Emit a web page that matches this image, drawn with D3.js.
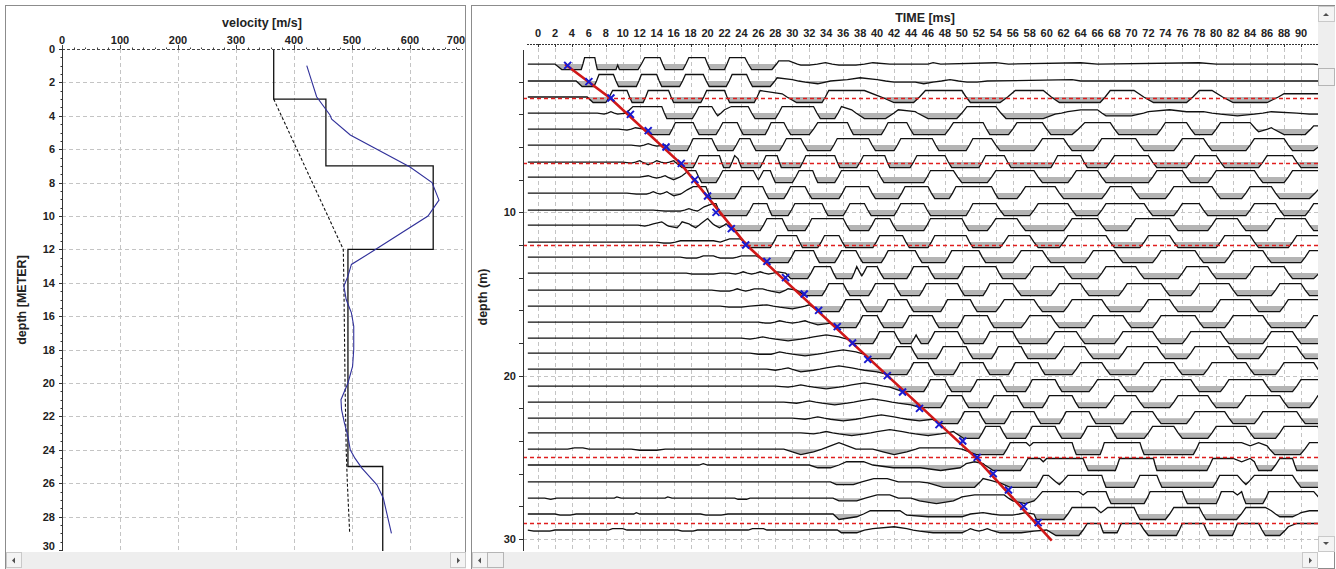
<!DOCTYPE html>
<html>
<head>
<meta charset="utf-8">
<script src="https://cdn.jsdelivr.net/npm/d3@7"></script>
<style>
  body { margin: 0; background: #ffffff; }
  svg { display: block; font-family: "Liberation Sans", Arial, sans-serif; }
  .tick-label { font-size: 11px; font-weight: bold; fill: #222; }
  .title { font-size: 12.5px; font-weight: bold; fill: #222; }
</style>
</head>
<body>
<svg id="chart" width="1336" height="569"></svg>
<script>
// ---------- velocity profile (left panel) ----------
const velocityTicks = [0, 100, 200, 300, 400, 500, 600, 700];
const depthTicksLeft = [0, 2, 4, 6, 8, 10, 12, 14, 16, 18, 20, 22, 24, 26, 28, 30];

// layered model (step curve)
const layerTop      = [0, 3, 7, 12, 25];
const layerBottom   = [3, 7, 12, 25, 30.5];
const layerVelocity = [365, 455, 640, 493, 553];

// dashed curve
const dashedDepth    = [3, 12, 14, 20, 24, 26, 29];
const dashedVelocity = [365, 485, 486, 488, 490, 492, 496];

// blue curve
const blueDepth    = [1.0, 2.86, 3.95, 4.2, 5.15, 7.07, 8.0, 9.05, 10.0, 12.04, 12.9, 13.6, 14.2, 15.0, 15.8, 16.6, 18.0, 19.0, 20.0, 21.0, 21.6, 22.4, 23.2, 24.0, 24.5, 25.1, 26.1, 26.9, 29.0];
const blueVelocity = [422, 439, 462, 465, 497, 600, 638, 650, 631, 539, 499, 493, 486, 490, 499, 503, 503, 501, 493, 481, 482, 487, 493, 497, 505, 517, 543, 554, 568];

// ---------- seismic section (right panel) ----------
const timeTicks = [0,2,4,6,8,10,12,14,16,18,20,22,24,26,28,30,32,34,36,38,40,42,44,46,48,50,52,54,56,58,60,62,64,66,68,70,72,74,76,78,80,82,84,86,88,90];
const depthTicksRight = [2, 4, 6, 8, 10, 12, 14, 16, 18, 20, 22, 24, 26, 28, 30];
const depthLabelsRight = [10, 20, 30];
const boundaryDepths = [3, 7, 12, 25, 29];

// trace baseline depths
const traceDepths = [0.92, 1.96, 2.94, 3.92, 4.90, 5.88, 6.92, 7.84, 8.82, 9.86, 10.78, 11.82, 12.74, 13.72, 14.76, 15.74, 16.72, 17.70, 18.62, 19.60, 20.64, 21.62, 22.60, 23.50, 24.50, 25.47, 26.50, 27.50, 28.47, 29.45];

// first-break picks
const pickDepths = [1,2,3,4,5,6,7,8,9,10,11,12,13,14,15,16,17,18,19,20,21,22,23,24,25,26,27,28,29];
const pickTimes  = [3.5, 6.0, 8.6, 10.9, 13.0, 15.1, 16.9, 18.5, 20.0, 21.0, 22.8, 24.5, 27.0, 29.2, 31.4, 33.1, 35.3, 37.1, 38.9, 41.2, 43.0, 45.0, 47.3, 50.1, 51.8, 53.7, 55.5, 57.3, 59.0];

// travel-time curve
const curveDepths = [0.93, 3, 7, 12, 25, 30.1];
const curveTimes  = [3.2, 8.5, 16.8, 24.6, 51.6, 60.6];

// trace waveforms as breakpoints "<time ms><level>", joined by straight segments
// levels: L clipped trough, l half trough, d small trough, - zero, u small peak, h half peak, H clipped peak
const traces = [
  "-1.2- 2.0- 2.8L 5.1L 5.5H 6.7H 7.0L 9.2L 9.4d 9.6L 11.8L 12.6H 14.4H 15.0L 17.1L 17.8H 19.7H 20.3L 22.0L 22.6H 24.4H 25.2L 27.6L 28.4h 29.6h 31.0d 32.0d 33.9u 35.5d 37.5d 39.5u 41.5- 46.0- 46.6u 47.5- 54.0u 55.5- 64.0u 66.0- 78.0u 80.0- 91.5- 92.5d",
  "-1.2- 4.5- 5.2L 6.6L 7.2H 8.9H 9.5L 11.6L 12.2H 14.0H 14.6L 16.7L 17.4H 19.5H 20.2L 22.2L 22.9H 24.6H 25.3L 27.4L 28.2h 30.0u 31.5d 33.0l 34.5- 36.5u 38.0h 40.0u 42.0d 44.5d 45.5l 46.6d 48.6u 50.6d 51.8d 53.0- 63.0u 64.0- 92.5-",
  "-1.2- 5.8- 6.5L 8.0L 8.8H 10.5H 11.1L 12.4L 13.0H 15.4H 16.0L 19.2L 19.9H 22.0H 22.6L 25.5L 26.2H 28.8h 30.5L 33.5L 34.3H 37.5H 38.5H 40.5- 42.0L 44.3L 45.7H 50.0H 51.0L 54.5L 56.3H 59.6H 61.5L 66.3L 67.5H 70.3H 72.6L 76.5L 78.0H 79.5H 82.0L 86.0L 88.0h 92.5h",
  "-1.2- 7.0- 7.8d 8.6u 9.4d 10.4- 11.2H 14.6H 15.2L 18.2L 19.0H 20.5H 21.2l 22.0h 22.8H 24.8H 25.6L 28.0L 28.8H 32.5H 33.3L 35.0L 35.8H 37.0h 38.5L 41.0L 42.5h 44.5u 46.0L 49.4L 50.6H 54.0H 55.2L 59.6L 61.0d 62.5u 64.0h 66.0h 67.0l 70.0l 72.0u 74.5h 76.5u 78.5u 80.5d 82.5l 84.5d 86.5u 89.5- 91.0d 92.5d",
  "-1.2- 9.5- 10.5d 11.5u 12.5- 13.3L 15.5L 16.2H 18.3H 19.0L 21.0L 21.8H 23.5H 24.2L 26.8L 27.5H 29.0H 29.8L 32.0L 33.0H 36.5H 37.2L 40.5L 41.3H 43.5H 44.3L 48.0L 49.0H 52.5H 53.3L 55.5L 56.5H 59.5H 60.5L 63.0L 64.5H 67.5H 68.5L 73.0L 74.0H 76.5H 77.5L 79.5L 80.5H 84.0H 85.0l 86.5u 88.0L 90.5L 91.5h 92.5h",
  "-1.2- 11.0- 12.0d 13.0u 14.0d 15.0- 15.6L 17.6L 18.3H 20.5H 21.2L 23.0L 23.8H 25.0H 25.7L 28.5L 29.3H 31.0H 31.8L 34.5L 35.3H 39.0H 39.8L 42.0L 42.8H 46.5H 47.3L 50.5L 51.3H 53.5H 54.5L 58.5L 59.5H 62.0H 63.0L 65.5L 66.5H 70.5H 71.5L 75.0L 76.0H 78.5H 79.5L 83.5L 84.5H 88.0H 89.0L 91.5L 92.5u",
  "-1.2- 10.0- 11.0d 12.0u 13.0l 14.0u 15.0d 16.0u 17.0L 18.3L 19.0H 21.4H 21.9L 22.6L 23.2H 23.6h 24.0L 26.2L 26.9H 28.2H 28.7L 30.9L 31.6H 35.0H 35.6L 37.6L 38.4H 40.9H 41.5L 43.9L 44.7H 48.0H 48.8L 52.0L 52.8H 55.0H 55.8L 60.5L 61.3H 64.0H 64.8L 67.0L 68.0H 72.0H 73.0L 76.5L 77.5H 80.0H 81.0L 85.0L 86.0H 89.0H 90.0L 92.5L",
  "-1.2- 12.0- 13.0u 14.0d 15.0u 16.0l 17.0u 17.8H 18.6H 19.3L 21.0L 21.8H 25.4H 26.0l 26.6H 27.4H 28.0L 30.0L 30.8H 32.4H 33.0L 35.0L 35.8H 40.0H 40.8L 45.5L 46.3H 49.0H 50.0L 53.0L 54.0H 58.5H 59.5L 62.5L 63.5H 66.0H 67.0L 72.0L 73.0H 76.0H 77.0L 79.0L 80.0H 84.5H 85.5L 88.0L 89.0H 92.5H",
  "-1.2- 10.5- 11.6d 12.8d 13.6u 14.4d 15.2u 16.0l 16.8d 17.6h 18.3H 19.8H 20.4L 23.2L 24.0H 26.5H 27.2L 29.0L 29.8H 31.5H 32.3L 35.5L 36.3H 39.0H 39.8L 42.5L 43.3H 46.0H 46.8L 48.5L 49.3H 53.5H 54.3L 56.5L 57.5H 61.0H 62.0L 66.5L 67.5H 70.0H 71.0L 74.0L 75.0H 79.5H 80.5L 83.0L 84.0H 86.5H 87.5L 91.0L 92.0h",
  "-1.2- 13.6- 15.0d 16.8d 17.8u 18.8d 19.6h 20.6H 21.0H 21.6L 24.6L 25.4H 27.0H 27.6L 29.5L 30.3H 33.5H 34.2L 36.0L 36.8H 38.5H 39.3L 42.0L 42.8H 45.5H 46.3L 50.5L 51.3H 54.0H 55.0L 58.0L 59.0H 62.5H 63.5L 66.0L 67.0H 71.5H 72.5L 75.0L 76.0H 78.0H 79.0L 83.5L 84.5H 87.0H 88.0L 90.5L 91.5H 92.5H",
  "-1.2- 11.8- 12.6d 13.6u 14.6h 15.4d 16.4l 17.0h 17.8u 18.6l 19.2u 20.0H 20.6u 21.4l 22.2u 23.0L 26.2L 27.0H 28.8H 29.5L 31.5L 32.3H 36.0H 36.8L 39.0L 39.8H 41.5H 42.3L 45.5L 46.3H 50.0H 50.8L 53.0L 54.0H 56.5H 57.5L 62.0L 63.0H 66.0H 67.0L 69.5L 70.5H 74.5H 75.5L 79.0L 80.0H 82.5H 83.5L 86.0L 87.0H 90.5H 91.5L 92.5L",
  "-1.2- 14.0- 14.8d 15.6d 16.8u 18.5u 20.7u 21.5- 22.6h 23.8h 24.4- 25.0L 27.4L 28.2H 30.5H 31.2L 33.0L 33.8H 35.5H 36.3L 39.5L 40.3H 43.0H 43.8L 46.0L 46.8H 50.5H 51.3L 54.5L 55.5H 58.0H 59.0L 61.5L 62.5H 67.0H 68.0L 71.0L 72.0H 74.5H 75.5L 80.0L 81.0H 84.0H 85.0L 88.5L 89.5H 92.5H",
  "-1.2- 16.8- 17.5d 18.7d 19.5u 20.7u 21.5d 23.0d 24.0u 25.7u 26.3d 27.2L 29.5L 30.3H 32.5H 33.2L 35.0L 35.8H 37.5H 38.3L 40.5L 41.3H 44.5H 45.3L 48.0L 48.8H 52.0H 52.8L 56.0L 57.0H 59.5H 60.5L 64.5L 65.5H 68.0H 69.0L 72.5L 73.5H 77.5H 78.5L 81.0L 82.0H 85.5H 86.5L 90.0L 91.0H 92.5H",
  "-1.2- 17.5- 18.2d 20.7d 21.5- 22.5- 23.3d 24.2u 25.2d 26.2u 27.2d 28.3u 29.2- 29.8L 31.8L 32.6H 34.5H 35.2L 37.0L 37.6H 38.2l 38.8H 40.0H 40.8L 43.5L 44.3H 46.0H 46.8L 49.5L 50.3H 54.0H 54.8L 57.5L 58.5H 62.0H 63.0L 66.0L 67.0H 70.5H 71.5L 75.5L 76.5H 79.0H 80.0L 83.5L 84.5H 88.0H 89.0L 91.5L 92.5h",
  "-1.2- 20.5- 21.5d 22.6d 23.5u 24.5d 25.5u 26.5u 27.5d 28.5l 29.5u 30.5- 31.5L 33.5L 34.3H 36.0H 36.8L 39.0L 39.8H 42.0H 42.8L 45.0L 45.8H 49.5H 50.3L 52.5L 53.3H 56.0H 57.0L 60.5L 61.5H 64.0H 65.0L 68.5L 69.5H 73.5H 74.5L 77.0L 78.0H 81.5H 82.5L 86.5L 87.5H 90.0H 91.0L 92.5L",
  "-1.2- 21.5- 22.5d 24.0d 25.0- 27.0u 28.5d 30.0l 31.0d 32.0u 33.2L 35.5L 36.3H 38.0H 38.8L 40.5L 41.3H 43.5H 44.3L 47.5L 48.3H 51.0H 51.8L 54.0L 55.0H 58.5H 59.5L 62.0L 63.0H 66.5H 67.5L 71.0L 72.0H 74.5H 75.5L 79.5L 80.5H 84.0H 85.0L 87.5L 88.5H 92.5H",
  "-1.2- 26.0- 26.8d 27.4d 28.5u 30.0d 31.5u 33.0l 34.5d 35.4L 37.5L 38.3H 40.0H 40.8L 43.0L 43.8H 46.5H 47.3L 49.5L 50.3H 53.0H 53.8L 57.0L 58.0H 60.5H 61.5L 64.5L 65.5H 69.0H 70.0L 72.5L 73.5H 77.5H 78.5L 81.0L 82.0H 85.5H 86.5L 90.5L 91.5H 92.5H",
  "-1.2- 24.0- 25.0d 26.5u 28.0d 29.5l 31.0d 32.5u 34.0h 35.5u 36.5d 37.2L 39.5L 40.3H 42.0H 42.8L 44.0L 44.6h 45.2L 46.0L 46.8H 49.5H 50.3L 52.5L 53.3H 56.0H 56.8L 60.0L 61.0H 63.5H 64.5L 68.0L 69.0H 72.5H 73.5L 76.0L 77.0H 80.5H 81.5L 85.5L 86.5H 89.0H 90.0L 92.5L",
  "-1.2- 25.0- 26.0d 27.5d 28.5u 30.0d 31.5l 33.0d 34.5u 36.0h 37.5u 38.5d 39.0L 41.5L 42.3H 44.0H 44.8L 47.0L 47.8H 50.5H 51.3L 53.5L 54.3H 57.0H 57.8L 61.0L 62.0H 64.5H 65.5L 68.5L 69.5H 73.0H 74.0L 76.5L 77.5H 81.5H 82.5L 85.0L 86.0H 89.5H 90.5L 92.5L",
  "-1.2- 27.0- 28.0d 29.5u 31.0l 32.5d 34.0u 35.5h 37.0u 38.5d 40.0l 41.3L 43.5L 44.3H 46.0H 46.8L 49.0L 49.8H 52.5H 53.3L 55.5L 56.3H 59.0H 59.8L 63.0L 64.0H 66.5H 67.5L 70.5L 71.5H 75.0H 76.0L 78.5L 79.5H 83.5H 84.5L 87.0L 88.0H 91.5H 92.5L",
  "-1.2- 28.0- 29.5d 31.0u 32.5d 34.0l 35.5d 37.0u 38.5h 40.0u 41.5d 43.0L 45.5L 46.3H 48.0H 48.8L 51.0L 51.8H 54.5H 55.3L 57.5L 58.3H 61.0H 61.8L 65.0L 66.0H 68.5H 69.5L 72.5L 73.5H 77.0H 78.0L 80.5L 81.5H 85.5H 86.5L 89.0L 90.0H 92.5H",
  "-1.2- 29.0- 30.5d 32.0u 33.5d 35.0l 36.5d 38.0u 39.5h 41.0u 42.5d 44.0l 45.1L 47.5L 48.3H 50.0H 50.8L 53.0L 53.8H 56.5H 57.3L 59.5L 60.3H 63.0H 63.8L 67.0L 68.0H 70.5H 71.5L 74.5L 75.5H 79.0H 80.0L 82.5L 83.5H 87.5H 88.5L 91.0L 92.0H",
  "-1.2- 30.0- 31.5d 33.0u 34.5d 36.0l 37.5d 39.0u 40.5h 42.0u 43.5d 45.0l 46.5d 47.4L 49.5L 50.3H 52.0H 52.8L 55.0L 55.8H 58.5H 59.3L 61.5L 62.3H 65.0H 65.8L 69.0L 70.0H 72.5H 73.5L 76.5L 77.5H 81.0H 82.0L 84.5L 85.5H 89.5H 90.5L 92.5L",
  "-1.2- 31.0- 32.5d 34.0u 35.5d 37.0l 38.5d 40.0u 41.5h 43.0u 44.5d 46.0l 47.5d 49.0u 50.2L 52.0L 52.8H 54.5H 55.3L 57.5L 58.3H 61.0H 61.8L 64.0L 64.8H 67.5H 68.3L 71.5L 72.5H 75.0H 76.0L 79.0L 80.0H 83.5H 84.5L 87.0L 88.0H 92.0H 92.5L",
  "-1.2- 3.5- 4.3u 5.3u 6.0- 11.0- 12.0d 14.0d 15.0- 29.0- 30.0l 31.0L 32.5l 33.5- 34.5h 35.5H 36.5h 37.5- 39.5- 40.7l 42.0L 43.5l 45.0u 49.0u 50.0- 51.7L 54.9L 55.7H 57.6H 58.0h 58.4H 63.0H 63.5L 66.3L 66.8H 71.0H 71.5L 77.3L 78.0H 83.0H 84.0h 85.0H 86.0h 86.9L 89.9L 91.0H 92.5H",
  "-1.2- 19.0- 19.5u 20.0- 32.0- 33.0l 34.5l 35.5- 36.4h 38.4h 39.5- 41.9l 43.9l 45.1l 47.5L 49.8l 50.5u 51.5h 52.5u 53.7L 56.9L 57.8H 59.2H 59.6h 60.0H 64.3H 64.9L 68.1L 68.6H 72.6H 73.0L 78.9L 79.6H 82.0H 83.0h 84.0H 84.5h 85.0L 86.5L 87.5H 89.0H 89.5L 92.0L 92.5l",
  "-1.2- 34.5- 35.2l 37.2l 38.2- 39.6h 41.2h 42.5- 45.0- 46.0d 47.8L 51.5L 52.5h 53.5u 54.5d 55.7L 58.8L 59.6H 60.2H 61.5l 62.5H 66.5H 67.0L 70.3L 71.0H 73.0H 73.6L 79.6L 80.4H 82.5H 83.5l 84.5H 89.0H 90.0L 92.5L",
  "-1.2- 0.8- 1.5d 2.2- 9.0- 9.3u 9.8- 15.0- 15.3u 15.8- 23.2- 23.6d 24.6d 25.0- 34.8- 35.5l 37.6l 38.6- 40.0h 41.5h 42.5- 44.0- 45.0l 47.0L 49.0l 50.0u 51.5h 55.0h 56.0l 57.5L 58.5l 59.5H 63.8H 64.3h 64.8H 67.0H 67.6L 71.5L 72.2H 76.0H 76.6L 80.0L 80.6H 82.0H 82.5h 83.0H 83.5L 85.5L 86.2H 91.5H 92.5l",
  "-1.2- 2.0- 2.6d 3.8d 4.5- 11.3- 11.6u 12.0- 19.2- 19.8d 21.6d 22.4- 34.8- 35.5L 37.6l 38.4- 39.2h 42.7h 43.5d 46.0l 50.0l 51.0- 52.5u 53.5- 54.5d 56.0d 57.5u 58.5- 58.8L 62.0L 63.0H 65.7H 66.4u 67.2H 70.3H 71.0L 74.0L 75.0H 78.0H 78.8L 82.4L 83.5H 85.8H 86.5h 87.5l 89.0l 90.0u 91.0h 92.5h",
  "-1.2- -0.5d 1.4d 2.0- 8.3- 8.8u 10.0u 10.5- 16.5- 17.0d 18.3d 18.8- 24.8- 25.3u 26.6u 27.0- 35.3- 35.8l 37.6l 38.5- 39.5u 42.0h 43.5u 45.0d 46.6l 50.0l 51.0u 52.0d 53.0u 54.5l 57.0l 58.5d 60.0- 61.1L 63.8L 64.8H 66.3H 66.7l 68.3l 68.8H 71.0H 72.0L 75.3L 76.0H 78.5H 79.2L 81.9L 82.5H 85.0H 85.8L 87.5L 88.5h 89.5H 92.5H"
];

// ---------- drawing ----------
const svg = d3.select("#chart");

function scrollBarH(x0, x1, y0, y1, thumb) {
  svg.append("rect").attr("x", x0).attr("y", y0).attr("width", x1 - x0).attr("height", y1 - y0)
    .attr("fill", "#eeeeee");
  svg.append("rect").attr("x", x0 + 0.5).attr("y", y0 + 0.5).attr("width", 15).attr("height", y1 - y0 - 2)
    .attr("fill", "#f4f4f4").attr("stroke", "#c9c9c9");
  svg.append("path").attr("d", `M${x0 + 9},${(y0 + y1) / 2 - 3} l-3,3 l3,3 z`).attr("fill", "#505050");
  svg.append("rect").attr("x", x1 - 15.5).attr("y", y0 + 0.5).attr("width", 15).attr("height", y1 - y0 - 2)
    .attr("fill", "#f4f4f4").attr("stroke", "#c9c9c9");
  svg.append("path").attr("d", `M${x1 - 9},${(y0 + y1) / 2 - 3} l3,3 l-3,3 z`).attr("fill", "#505050");
  if (thumb) {
    svg.append("rect").attr("x", x0 + 15.5).attr("y", y0 + 0.5).attr("width", 16).attr("height", y1 - y0 - 2)
      .attr("fill", "#f0f0f0").attr("stroke", "#b5b5b5");
  }
}

// panel frames
svg.append("rect").attr("x", 5.5).attr("y", 5.5).attr("width", 460).attr("height", 563)
  .attr("fill", "#ffffff").attr("stroke", "#8c8c8c");
svg.append("rect").attr("x", 471.5).attr("y", 5.5).attr("width", 863).attr("height", 563)
  .attr("fill", "#ffffff").attr("stroke", "#8c8c8c");

// ================= LEFT PANEL =================
const xV = d3.scaleLinear().domain([0, 700]).range([62, 468]);
const yL = d3.scaleLinear().domain([0, 30]).range([49, 550]);
svg.append("clipPath").attr("id", "clipL")
  .append("rect").attr("x", 62).attr("y", 40).attr("width", 401).attr("height", 511);

const gL = svg.append("g");
const gLc = gL.append("g").attr("clip-path", "url(#clipL)");

gLc.selectAll("line.vgrid").data(velocityTicks.filter(v => v > 0)).enter().append("line")
  .attr("class", "vgrid")
  .attr("x1", d => Math.round(xV(d)) + 0.5).attr("x2", d => Math.round(xV(d)) + 0.5)
  .attr("y1", yL(0)).attr("y2", 551)
  .attr("stroke", "#c4c4c4").attr("stroke-dasharray", "4,3");
gLc.selectAll("line.hgrid").data(depthTicksLeft.filter(d => d > 0 && d < 30)).enter().append("line")
  .attr("class", "hgrid")
  .attr("x1", xV(0)).attr("x2", 463)
  .attr("y1", d => Math.round(yL(d)) + 0.5).attr("y2", d => Math.round(yL(d)) + 0.5)
  .attr("stroke", "#c4c4c4").attr("stroke-dasharray", "4,3");

// top axis
gL.append("line").attr("x1", xV(0)).attr("x2", 463).attr("y1", 49.5).attr("y2", 49.5)
  .attr("stroke", "#444").attr("stroke-dasharray", "3,2");
gL.selectAll("line.vtick").data(d3.range(0, 681, 20)).enter().append("line")
  .attr("class", "vtick")
  .attr("x1", d => Math.round(xV(d)) + 0.5).attr("x2", d => Math.round(xV(d)) + 0.5)
  .attr("y1", 49).attr("y2", d => d % 100 === 0 ? 45 : 47.5)
  .attr("stroke", "#444");
gL.selectAll("text.vlabel").data(velocityTicks).enter().append("text")
  .attr("class", "tick-label vlabel").attr("x", d => Math.min(xV(d), 456)).attr("y", 44)
  .attr("text-anchor", "middle").text(d => d);

// left axis
gL.append("line").attr("x1", 62.5).attr("x2", 62.5).attr("y1", 49).attr("y2", 551).attr("stroke", "#333");
gL.selectAll("line.dtick").data(d3.range(0, 30.01, 0.5)).enter().append("line")
  .attr("class", "dtick")
  .attr("x1", d => (d % 2 === 0) ? 59 : 60.5).attr("x2", 62)
  .attr("y1", d => Math.round(yL(d)) + 0.5).attr("y2", d => Math.round(yL(d)) + 0.5)
  .attr("stroke", "#333");
gL.selectAll("text.dlabel").data(depthTicksLeft).enter().append("text")
  .attr("class", "tick-label dlabel").attr("x", 55).attr("y", d => Math.min(yL(d) + 4, 550))
  .attr("text-anchor", "end").text(d => d);

gL.append("text").attr("class", "title").attr("x", 262).attr("y", 27)
  .attr("text-anchor", "middle").text("velocity [m/s]");
gL.append("text").attr("class", "title").attr("transform", "translate(26,300) rotate(-90)")
  .attr("text-anchor", "middle").text("depth [METER]");

// step model
const stepPts = [];
layerTop.forEach((t, i) => {
  stepPts.push([layerVelocity[i], t]);
  stepPts.push([layerVelocity[i], layerBottom[i]]);
});
gLc.append("path")
  .attr("d", d3.line().x(d => xV(d[0])).y(d => yL(d[1]))(stepPts))
  .attr("fill", "none").attr("stroke", "#111").attr("stroke-width", 1.3);

gLc.append("path")
  .attr("d", d3.line().x((d, i) => xV(dashedVelocity[i])).y(d => yL(d))(dashedDepth))
  .attr("fill", "none").attr("stroke", "#111").attr("stroke-width", 1.1).attr("stroke-dasharray", "3,2");

gLc.append("path")
  .attr("d", d3.line().x((d, i) => xV(blueVelocity[i])).y(d => yL(d))(blueDepth))
  .attr("fill", "none").attr("stroke", "#30309a").attr("stroke-width", 1.1);

scrollBarH(6, 466, 552, 569, false);

// ================= RIGHT PANEL =================
const xT = d3.scaleLinear().domain([0, 90]).range([538, 1301]);
const yD = d3.scaleLinear().domain([0, 30]).range([49, 539]);
const plotX0 = 523, plotX1 = 1318;
svg.append("clipPath").attr("id", "clipR")
  .append("rect").attr("x", plotX0).attr("y", 46).attr("width", plotX1 - plotX0).attr("height", 505);

const gR = svg.append("g");
const gRc = gR.append("g").attr("clip-path", "url(#clipR)");

gRc.selectAll("line.tgrid").data(timeTicks).enter().append("line")
  .attr("class", "tgrid")
  .attr("x1", d => Math.round(xT(d)) + 0.5).attr("x2", d => Math.round(xT(d)) + 0.5)
  .attr("y1", 48).attr("y2", 551)
  .attr("stroke", "#c4c4c4").attr("stroke-dasharray", "4,3");
gRc.selectAll("line.zgrid").data(depthLabelsRight).enter().append("line")
  .attr("class", "zgrid")
  .attr("x1", plotX0).attr("x2", plotX1)
  .attr("y1", d => Math.round(yD(d)) + 0.5).attr("y2", d => Math.round(yD(d)) + 0.5)
  .attr("stroke", "#c4c4c4").attr("stroke-dasharray", "4,3");

// top axis
gR.append("line").attr("x1", 527).attr("x2", plotX1).attr("y1", 44.5).attr("y2", 44.5)
  .attr("stroke", "#333").attr("stroke-dasharray", "2,1");
gR.selectAll("line.ttick").data(timeTicks).enter().append("line")
  .attr("class", "ttick")
  .attr("x1", d => Math.round(xT(d)) + 0.5).attr("x2", d => Math.round(xT(d)) + 0.5)
  .attr("y1", 44).attr("y2", 47).attr("stroke", "#333");
gR.selectAll("text.tlabel").data(timeTicks).enter().append("text")
  .attr("class", "tick-label tlabel").attr("x", d => xT(d)).attr("y", 37)
  .attr("text-anchor", "middle").text(d => d);
gR.append("text").attr("class", "title").attr("x", 925).attr("y", 22)
  .attr("text-anchor", "middle").text("TIME [ms]");

// depth axis
gR.append("line").attr("x1", plotX0 + 0.5).attr("x2", plotX0 + 0.5).attr("y1", 50).attr("y2", 551).attr("stroke", "#333");
gR.selectAll("line.ztick").data(depthTicksRight).enter().append("line")
  .attr("class", "ztick")
  .attr("x1", plotX0 - 4).attr("x2", plotX0)
  .attr("y1", d => Math.round(yD(d)) + 0.5).attr("y2", d => Math.round(yD(d)) + 0.5)
  .attr("stroke", "#333");
gR.selectAll("text.zlabel").data(depthLabelsRight).enter().append("text")
  .attr("class", "tick-label zlabel").attr("x", plotX0 - 7).attr("y", d => yD(d) + 4)
  .attr("text-anchor", "end").text(d => d);
gR.append("text").attr("class", "title").attr("transform", "translate(487,297) rotate(-90)")
  .attr("text-anchor", "middle").text("depth (m)");

// traces
const level = { L: -1, l: -0.5, d: -0.2, "-": 0, u: 0.2, h: 0.5, H: 1 };
const upClip = 6.5, downClip = 5.5;
function decode(str) {
  const pts = str.trim().split(/\s+/).map(tok => ({ t: +tok.slice(0, -1), a: level[tok.slice(-1)] }));
  const last = pts[pts.length - 1];
  if (last.t < 92.5) pts.push({ t: 92.5, a: last.a });
  const out = [pts[0]];
  for (let k = 1; k < pts.length; k++) {
    const p = pts[k - 1], q = pts[k];
    if (p.a * q.a < 0) {
      const f = p.a / (p.a - q.a);
      out.push({ t: p.t + f * (q.t - p.t), a: 0 });
    }
    out.push(q);
  }
  return out;
}
const offset = a => a > 0 ? -a * upClip : -a * downClip;

const gTr = gRc.append("g");
traces.forEach((str, i) => {
  const base = yD(traceDepths[i]);
  const pts = decode(str);
  gTr.append("path")
    .attr("d", d3.area().x(d => xT(d.t)).y0(base).y1(d => base + Math.max(0, offset(d.a)))(pts))
    .attr("fill", "#b4b4b4");
  gTr.append("path")
    .attr("d", d3.line().x(d => xT(d.t)).y(d => base + offset(d.a))(pts))
    .attr("fill", "none").attr("stroke", "#111").attr("stroke-width", 1.3);
});

// layer boundaries (drawn above the traces)
const gB = gRc.append("g");
boundaryDepths.forEach(d => {
  const y = Math.round(yD(d)) + 0.5;
  gB.append("line")
    .attr("x1", plotX0).attr("x2", plotX1).attr("y1", y).attr("y2", y)
    .attr("stroke", "#e01e1e").attr("stroke-dasharray", "4,3").attr("stroke-width", 1.5);
});

// travel-time curve
gRc.append("path")
  .attr("d", d3.line().x((d, i) => xT(curveTimes[i])).y(d => yD(d))(curveDepths))
  .attr("fill", "none").attr("stroke", "#d01818").attr("stroke-width", 2.6);

// picks
const gP = gRc.append("g");
pickDepths.forEach((d, i) => {
  const cx = xT(pickTimes[i]), cy = yD(d);
  gP.append("path").attr("d", `M${cx - 3.5},${cy - 3.5}L${cx + 3.5},${cy + 3.5}M${cx - 3.5},${cy + 3.5}L${cx + 3.5},${cy - 3.5}`)
    .attr("stroke", "#1a1ad0").attr("stroke-width", 2);
});

// scroll bars of right panel
scrollBarH(472, 1318, 552, 569, true);
svg.append("rect").attr("x", 1318).attr("y", 6).attr("width", 17).attr("height", 546).attr("fill", "#eeeeee");
svg.append("rect").attr("x", 1318.5).attr("y", 6.5).attr("width", 16).attr("height", 15).attr("fill", "#f4f4f4").attr("stroke", "#c9c9c9");
svg.append("path").attr("d", "M1323,16 l3,-3 l3,3 z").attr("fill", "#505050");
svg.append("rect").attr("x", 1318.5).attr("y", 68.5).attr("width", 16).attr("height", 17).attr("fill", "#f0f0f0").attr("stroke", "#b5b5b5");
svg.append("rect").attr("x", 1318.5).attr("y", 536.5).attr("width", 16).attr("height", 15).attr("fill", "#f4f4f4").attr("stroke", "#c9c9c9");
svg.append("path").attr("d", "M1323,542 l3,3 l3,-3 z").attr("fill", "#505050");
</script>
</body>
</html>
